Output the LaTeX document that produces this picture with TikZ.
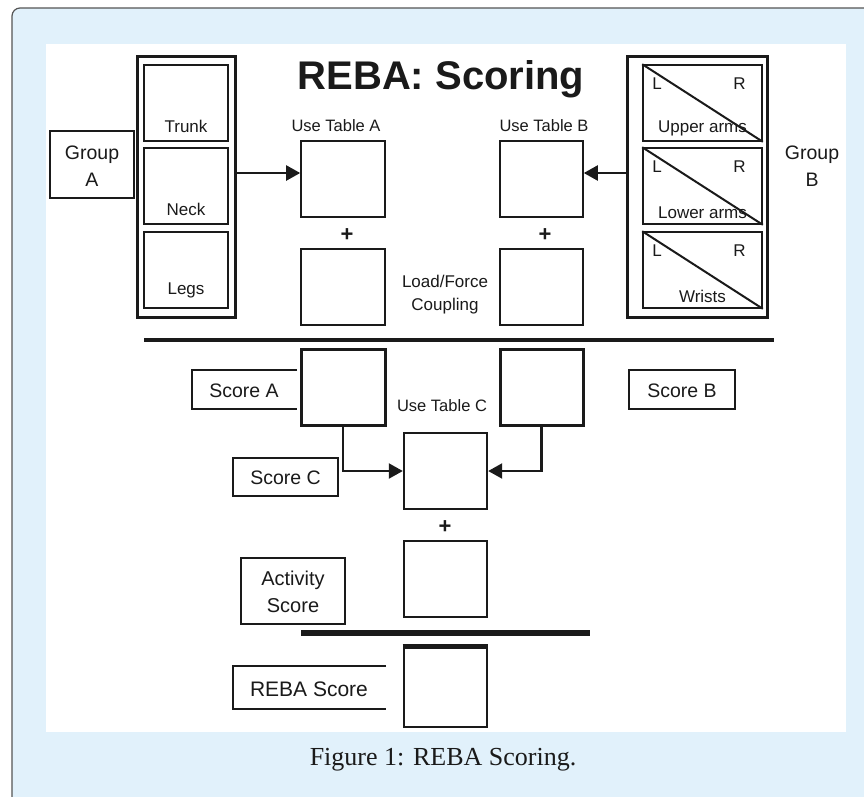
\documentclass[tikz,border=0pt]{standalone}
\usepackage{fontspec}
\setmainfont{Liberation Serif}
\setsansfont{Liberation Sans}
\usetikzlibrary{arrows.meta}

\definecolor{panelblue}{HTML}{E1F1FB}
\definecolor{framegray}{HTML}{555555}
\definecolor{ink}{HTML}{1A1A1A}

\tikzset{
  px/.style={x=1pt,y=-1pt},
  thinbox/.style={draw=ink,line width=1.6pt,inner sep=0pt,fill=white},
  thickbox/.style={draw=ink,line width=3pt,inner sep=0pt,fill=white},
  lbl/.style={text=ink,inner sep=0pt,font=\sffamily\fontsize{17}{20}\selectfont,align=center},
  biglbl/.style={text=ink,inner sep=0pt,font=\sffamily\fontsize{19.5}{27}\selectfont,align=center},
  plus/.style={text=ink,inner sep=0pt,font=\sffamily\bfseries\fontsize{22}{22}\selectfont},
  arr/.style={draw=ink,line width=2.2pt,-{Triangle[length=14pt,width=15pt]}},
  rule/.style={draw=ink,line width=4.5pt},
}

\begin{document}
\begin{tikzpicture}[px]
\useasboundingbox (0,0) rectangle (864,796);
\begin{scope}
\clip (0,0) rectangle (864,796);
% outer card and white drawing area
\draw[framegray,line width=1.2pt,fill=panelblue,rounded corners=8pt] (12,8) rectangle (890,820);
\fill[white] (46,44) rectangle (846,732);
\end{scope}

% title
\node[text=ink,inner sep=0pt,anchor=base,font=\sffamily\bfseries\fontsize{40}{40}\selectfont] (title) at (441,89) {REBA: Scoring};

% ---- Group A ----
\node[thickbox,minimum width=98pt,minimum height=261pt] (gaout) at (186,186.5) {};
\node[thinbox,minimum width=84pt,minimum height=76pt] (trunk) at (186,103) {};
\node[thinbox,minimum width=84pt,minimum height=76pt] (neck) at (186,186) {};
\node[thinbox,minimum width=84pt,minimum height=76pt] (legs) at (186,270) {};
\node[lbl] (trunkt) at (186,126) {Trunk};
\node[lbl] (neckt) at (186,209) {Neck};
\node[lbl] (legst) at (186,290) {Legs};

\node[thinbox,minimum width=84pt,minimum height=67pt] (grpA) at (92,164.5) {};
\node[biglbl] (grpAt) at (92,166) {Group\\A};

% ---- Table A column ----
\node[lbl,font=\sffamily\fontsize{16.5}{20}\selectfont] (useA) at (336,126) {Use Table A};
\node[thinbox,minimum width=84pt,minimum height=76pt] (tabA) at (343,179) {};
\node[plus] (plusA) at (347,235) {+};
\node[thinbox,minimum width=84pt,minimum height=76pt] (loadA) at (343,287) {};

% ---- Table B column ----
\node[lbl,font=\sffamily\fontsize{16.5}{20}\selectfont] (useB) at (544,126) {Use Table B};
\node[thinbox,minimum width=83pt,minimum height=76pt] (tabB) at (541.5,179) {};
\node[plus] (plusB) at (545,235) {+};
\node[thinbox,minimum width=83pt,minimum height=76pt] (loadB) at (541.5,287) {};
\node[lbl,font=\sffamily\fontsize{17}{23}\selectfont] (loadt) at (445,295) {Load/Force\\Coupling};

% ---- Group B ----
\node[thickbox,minimum width=140pt,minimum height=261pt] (gbout) at (697,186.5) {};
\foreach \n/\cy/\txt in {uarm/103/Upper arms, larm/186/Lower arms, wrist/270/Wrists}{
  \node[thinbox,minimum width=119pt,minimum height=76pt] (\n) at (702.5,\cy) {};
  \draw[ink,line width=2pt] (\n.north west) -- (\n.south east);
  \node[lbl,font=\sffamily\fontsize{17}{17}\selectfont,anchor=north west] (\n L) at ([xshift=10pt,yshift=-13pt]\n.north west) {L};
  \node[lbl,font=\sffamily\fontsize{17}{17}\selectfont,anchor=north east] (\n R) at ([xshift=-17pt,yshift=-13pt]\n.north east) {R};
  \node[lbl,anchor=south] (\n T) at ([yshift=6pt]\n.south) {\txt};
}
\node[biglbl] (grpBt) at (812,166) {Group\\B};

% connectors into the tables
\draw[arr] (gaout.east |- 0,173) -- (tabA.west |- 0,173);
\draw[arr] (gbout.west |- 0,173) -- (tabB.east |- 0,173);

% first rule
\draw[rule] (144,340) -- (774,340);

% ---- Score A / Score B ----
\node[thickbox,minimum width=84pt,minimum height=76pt] (sA) at (343,387) {};
\node[thickbox,minimum width=83pt,minimum height=76pt] (sB) at (541.5,387) {};
\draw[ink,line width=1.8pt] (297,370) -- (192,370) -- (192,409) -- (297,409);
\node[biglbl] (sAt) at (244,391) {Score A};
\node[draw=ink,line width=1.8pt,inner sep=0pt,minimum width=106pt,minimum height=39pt] (sBbox) at (682,389.5) {};
\node[biglbl] (sBt) at (682,391) {Score B};

% ---- Table C ----
\node[lbl,font=\sffamily\fontsize{16.5}{20}\selectfont] (useC) at (442,406) {Use Table C};
\node[thickbox,line width=2.4pt,minimum width=83pt,minimum height=76pt] (tabC) at (445.5,471) {};
\draw[arr] (sA.south) |- (tabC.west);
\draw[arr] (sB.south) |- (tabC.east);
\node[draw=ink,line width=1.8pt,inner sep=0pt,minimum width=105pt,minimum height=38pt] (sCbox) at (285.5,477) {};
\node[biglbl] (sCt) at (285.5,478) {Score C};

% ---- Activity ----
\node[plus] (plusC) at (445,527) {+};
\node[thickbox,line width=2.4pt,minimum width=83pt,minimum height=76pt] (act) at (445.5,579) {};
\node[draw=ink,line width=1.8pt,inner sep=0pt,minimum width=104pt,minimum height=66pt] (actbox) at (293,591) {};
\node[biglbl,font=\sffamily\fontsize{20}{27}\selectfont] (actt) at (293,592) {Activity\\Score};

% second rule
\draw[rule,line width=5.5pt] (301,633) -- (590,633);

% ---- REBA score ----
\node[thickbox,line width=2.6pt,minimum width=83pt,minimum height=79pt] (reba) at (445.5,687.5) {};
\draw[ink,line width=5pt] (reba.north west) -- (reba.north east);
\draw[ink,line width=1.8pt] (386,666) -- (233,666) -- (233,709) -- (386,709);
\node[biglbl,font=\sffamily\fontsize{21}{21}\selectfont] (rebat) at (309,689) {REBA Score};

% caption
\node[text=ink,inner sep=0pt,font=\fontsize{26}{26}\selectfont] (caption) at (443,760) {Figure 1: REBA Scoring.};
\end{tikzpicture}
\end{document}
